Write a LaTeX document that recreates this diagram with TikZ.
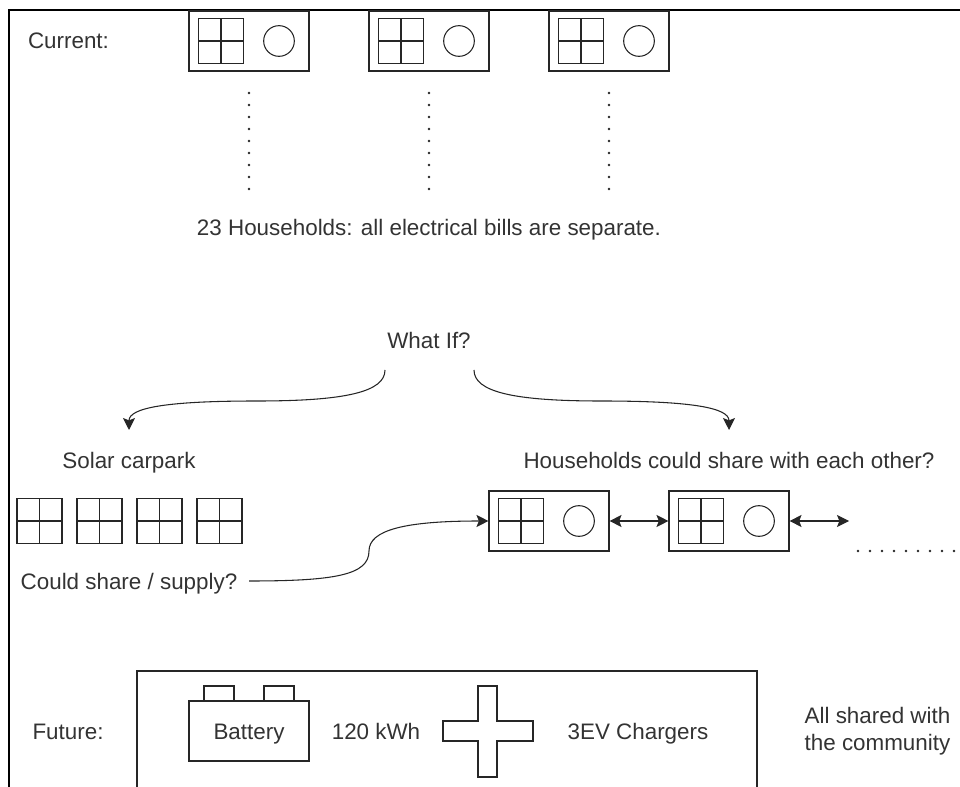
\documentclass[tikz,border=0pt]{standalone}
\usepackage{fontspec}
\setmainfont{Liberation Sans}
\usetikzlibrary{arrows.meta}

\definecolor{labelgrey}{HTML}{333333}

\tikzset{
    frame line/.style={
      draw=black,
      line width=1.2pt
    },
    thin line/.style={
      draw=black!85,
      line width=0.8pt
    },
    plain label/.style={
      font=\fontsize{16.8}{20}\selectfont,
      text=labelgrey,
      text height=12pt,
      text depth=0pt,
      inner sep=0pt
    },
    house box/.style={
      thin line,
      rectangle,
      minimum width=90pt,
      minimum height=45pt,
      inner sep=0pt
    },
    dot line/.style={
      draw=black!85,
      line width=1.9pt,
      line cap=round,
      dash pattern=on 0pt off 9pt
    },
    flow/.style={
      thin line,
      -{Stealth[length=9pt,width=9pt,inset=1.8pt]}
    },
    both flow/.style={
      thin line,
      {Stealth[length=9pt,width=9pt,inset=1.8pt]}-{Stealth[length=9pt,width=9pt,inset=1.8pt]}
    },
    solar panel/.pic={
      \draw[thin line] (-22.5,-22.5) rectangle (22.5,22.5);
      \draw[thin line] (0,-22.5) -- (0,22.5);
      \draw[thin line] (-22.5,0) -- (22.5,0);
    },
    household/.pic={
      \node[house box] (box) at (0,0) {};
      \pic at (-28,0) {solar panel};
      \draw[thin line] (30,0) circle (11.5pt);
    }
}

\begin{document}
\begin{tikzpicture}[x=0.75pt,y=-0.75pt]
      \useasboundingbox (0,0) rectangle (960,787);

      % outer frame
      \draw[frame line] (960,10) -- (9,10) -- (9,787);

      % current
      \node[plain label] (current) at (68.5,41) {Current:};
      \pic (houseA) at (249,41) {household};
      \pic (houseB) at (429,41) {household};
      \pic (houseC) at (609,41) {household};
      \coordinate (dotsAtop) at (249,93);
      \coordinate (dotsAend) at (249,189.5);
      \coordinate (dotsBtop) at (429,93);
      \coordinate (dotsBend) at (429,189.5);
      \coordinate (dotsCtop) at (609,93);
      \coordinate (dotsCend) at (609,189.5);
      \draw[dot line] (dotsAtop) -- (dotsAend);
      \draw[dot line] (dotsBtop) -- (dotsBend);
      \draw[dot line] (dotsCtop) -- (dotsCend);
      \node[plain label] (separate) at (429,228) {23 Households: all electrical bills are separate.};

      % what if
      \node[plain label] (whatif) at (429,341) {What If?};
      \coordinate (whatifL) at (385,370);
      \coordinate (whatifR) at (474,370);
      \coordinate (solarIn) at (129,430);
      \coordinate (shareIn) at (729,430);
      \draw[flow] (whatifL) .. controls (385,392) and (345,401) .. (257,401) .. controls (165,401) and (129,408) .. (solarIn);
      \draw[flow] (whatifR) .. controls (474,392) and (514,401) .. (601,401) .. controls (693,401) and (729,408) .. (shareIn);

      % solar carpark
      \node[plain label] (solar) at (129,461) {Solar carpark};
      \pic at (39.5,521) {solar panel};
      \pic at (99.5,521) {solar panel};
      \pic at (159.5,521) {solar panel};
      \pic at (219.5,521) {solar panel};
      \node[plain label] (supply) at (129,581) {Could share / supply?};

      % households sharing
      \node[plain label] (share) at (729,461) {Households could share with each other?};
      \pic (houseD) at (549,521) {household};
      \pic (houseE) at (729,521) {household};
      \coordinate (supplyOut) at (249,581);
      \coordinate (shareOut) at (849,521);
      \coordinate (moreStart) at (858,551);
      \coordinate (moreEnd) at (960,551);
      \draw[flow] (supplyOut) .. controls (335,581) and (369,575) .. (369,551) .. controls (369,530) and (405,521) .. (houseDbox.west);
      \draw[both flow] (houseDbox.east) -- (houseEbox.west);
      \draw[both flow] (houseEbox.east) -- (shareOut);
      \draw[dot line] (moreStart) -- (moreEnd);

      % future
      \node[plain label] (future) at (68,731) {Future:};
      \draw[thin line] (137,787) -- (137,671) -- (757,671) -- (757,787);
      \node[house box,plain label] (battery) at (249,731) {Battery};
      \draw[thin line] (204,701) -- (204,686) -- (234,686) -- (234,701);
      \draw[thin line] (264,701) -- (264,686) -- (294,686) -- (294,701);
      \node[plain label] (capacity) at (376,731) {120 kWh};
      \draw[thin line] (478,686) -- (497,686) -- (497,721) -- (533,721) -- (533,741) -- (497,741)
        -- (497,777) -- (478,777) -- (478,741) -- (443,741) -- (443,721) -- (478,721) -- cycle;
      \node[plain label] (chargers) at (638,731) {3EV Chargers};
      \node[plain label,align=center] (community) at (877.5,742) {All shared with\\the community};
    \end{tikzpicture}
\end{document}
